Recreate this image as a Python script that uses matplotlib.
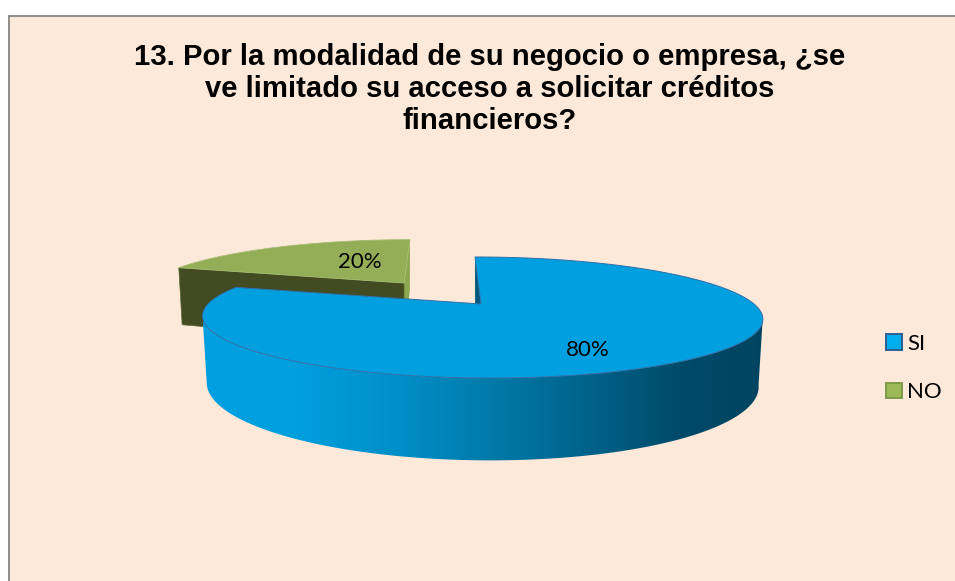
import numpy as np
import matplotlib
matplotlib.use("Agg")
import matplotlib.pyplot as plt
from matplotlib.patches import Polygon, Rectangle, Patch
from matplotlib.colors import LinearSegmentedColormap

categories = ["SI", "NO"]
values = [80, 20]
title = ("13. Por la modalidad de su negocio o empresa, ¿se\n"
         "ve limitado su acceso a solicitar créditos\n"
         "financieros?")

BG = "#FDE9DA"
BLUE = "#00A0E0"
GREEN = "#93AE56"
k = 0.223  # perspective of the tilted disc


# project a point of the unit disc (angle in deg, radius r) to pixels
def project(theta, cx, cy, rx, ry, sx, h0, r=1.0, bottom=False):
    t = np.radians(theta)
    u, v = r*np.cos(t), r*np.sin(t)
    d = 1 + k*v
    x = (rx*u + sx*v)/d
    y = -ry*v/d
    if bottom:
        return cx + 0.985*x, cy + y + h0/d
    return cx + x, cy + y


def ring(a0, a1, geo, bottom=False):
    th = np.linspace(a0, a1, 200)
    x, y = project(th, *geo, bottom=bottom)
    return np.column_stack((x, y))


fig = plt.figure(figsize=(9.55, 5.81), dpi=100)
ax = fig.add_axes([0, 0, 1, 1])
ax.set_xlim(0, 955)
ax.set_ylim(581, 0)
ax.axis("off")

ax.add_patch(Rectangle((9, 15.5), 960, 580, fc=BG, ec="#868686", lw=1.3, zorder=0))

# slices go clockwise from 12 o'clock
total = sum(values)
a_si_0 = 90.0
a_si_1 = a_si_0 - 360.0*values[0]/total
a_no_0 = a_si_1 + 360.0
a_no_1 = a_no_0 - 360.0*values[1]/total

geo_si = (481, 304, 273, 57.5, -7.3, 64)
geo_no = (404, 283, 255.5, 53, 7.3, 61)

# ---- NO slice, drawn first because it sits behind
ax0 = np.array(project(a_no_0, *geo_no))
ax1 = np.array(project(a_no_1, *geo_no))
apex = np.array([geo_no[0], geo_no[1]])
apex_b = np.array(project(0, *geo_no, r=0.0, bottom=True))
ax0_b = np.array(project(a_no_0, *geo_no, bottom=True))
ax1_b = np.array(project(a_no_1, *geo_no, bottom=True))
ax.add_patch(Polygon([ax1, apex, apex_b, ax1_b], fc="#8CA850", ec="none", zorder=2))
ax.add_patch(Polygon([ax0, apex, apex_b, ax0_b], fc="#424B22", ec="#5A6A30", lw=0.5, zorder=2))
top_no = np.vstack((ring(a_no_0, a_no_1, geo_no), apex))
ax.add_patch(Polygon(top_no, fc=GREEN, ec="#A5BC70", lw=0.6, zorder=3))

# ---- SI slice
th0_t = np.array(project(a_si_0, *geo_si))
th0_b = np.array(project(a_si_0, *geo_si, bottom=True))
apex = np.array([geo_si[0], geo_si[1]])
apex_b = np.array(project(0, *geo_si, r=0.0, bottom=True))
ax.add_patch(Polygon([th0_t, apex, apex_b, th0_b], fc="#00587A", ec="none", zorder=4))

rim_t = ring(a_si_0, a_si_1, geo_si)
# only the front of the rim shows, between the two silhouette points
front_t = ring(-13, -167, geo_si)
front_b = ring(-13, -167, geo_si, bottom=True)
side = Polygon(np.vstack((front_t, front_b[::-1])), fc="none", ec="none", zorder=5)
ax.add_patch(side)
stops = [(207, "#00A0E0"), (300, "#009FDE"), (400, "#008FC8"), (500, "#0078A6"),
         (600, "#005F86"), (680, "#004A68"), (765, "#004460")]
cmap = LinearSegmentedColormap.from_list(
    "side", [((p - 207)/(765 - 207), c) for p, c in stops])
im = ax.imshow(np.linspace(0, 1, 512)[None, :], cmap=cmap, aspect="auto",
               extent=(200, 770, 470, 250), zorder=5)
im.set_clip_path(side)
ax.set_xlim(0, 955)
ax.set_ylim(581, 0)

top_si = np.vstack((rim_t, apex))
ax.add_patch(Polygon(top_si, fc=BLUE, ec="#2F6EA8", lw=0.7, zorder=6))

# ---- texts
ax.text(490, 89, title, ha="center", va="center", family="Liberation Sans",
        fontsize=21.1, fontweight="bold", color="black", linespacing=1.19, zorder=8)
label_pos = [(588, 350), (360, 262)]
for v, (lx, ly) in zip(values, label_pos):
    ax.text(lx, ly, f"{v}%", ha="center", va="center", family="Lato",
            fontsize=16, color="black", zorder=8)

handles = [Patch(fc="#00AEEF", ec="#2F5C96", lw=1.4),
           Patch(fc="#9BBB59", ec="#7F9A48", lw=1.4)]
ax.legend(handles, categories, loc="center left", bbox_to_anchor=(879, 368),
          bbox_transform=ax.transData, frameon=False, prop={"family": "Lato", "size": 16},
          handlelength=0.72, handleheight=0.72, handletextpad=0.25, labelspacing=1.28,
          borderpad=0.3, borderaxespad=0)

plt.savefig("out.png", dpi=100)
plt.close()
